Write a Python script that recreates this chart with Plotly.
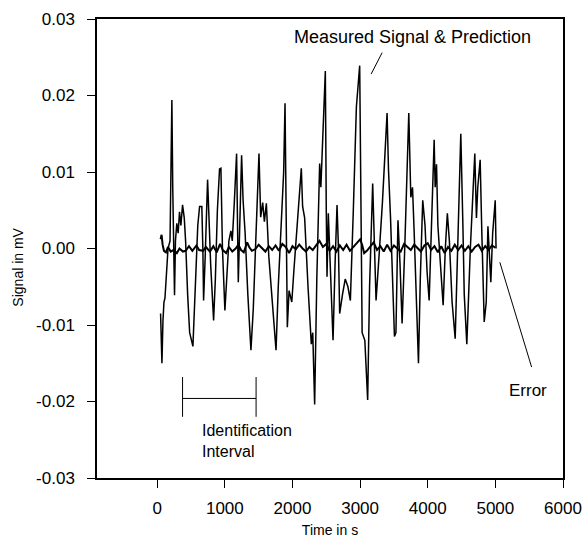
import plotly.graph_objects as go

# measured signal (prediction lies on top of it)
sig_t = [50, 60, 70, 85, 100, 115, 135, 160, 190, 205, 217, 230, 245, 256, 270, 290, 310, 330, 350, 375,
         400, 420, 450, 480, 528, 560, 600, 627, 660, 675, 686, 710, 745, 770, 790, 834, 860, 890, 922, 942,
         965, 1001, 1030, 1060, 1090, 1110, 1140, 1174, 1199, 1220, 1248, 1270, 1300, 1340, 1386, 1420, 1460,
         1505, 1530, 1560, 1585, 1614, 1650, 1700, 1757, 1790, 1840, 1870, 1890, 1905, 1924, 1950, 1990, 2020,
         2080, 2131, 2150, 2180, 2230, 2279, 2300, 2328, 2360, 2402, 2420, 2450, 2486, 2500, 2511, 2530, 2560,
         2600, 2630, 2659, 2680, 2698, 2740, 2780, 2820, 2856, 2900, 2945, 2994, 3015, 3030, 3070, 3112, 3140,
         3186, 3210, 3236, 3280, 3330, 3399, 3420, 3450, 3475, 3508, 3530, 3560, 3590, 3621, 3660, 3720, 3750,
         3775, 3800, 3830, 3863, 3890, 3926, 3960, 3990, 4021, 4050, 4095, 4110, 4130, 4150, 4180, 4228, 4260,
         4290, 4320, 4360, 4406, 4440, 4489, 4520, 4540, 4578, 4630, 4696, 4720, 4740, 4775, 4800, 4835, 4865,
         4890, 4933, 4960, 4998, 5010]
sig_v = [-0.0085, -0.0120, -0.0150, -0.0095, -0.0070, -0.0065, -0.0030, 0.0000, 0.0010, 0.0120, 0.0194,
         0.0080, -0.0020, -0.0061, 0.0010, 0.0033, 0.0020, 0.0048, 0.0030, 0.0057, 0.0040, 0.0010, -0.0060,
         -0.0110, -0.0128, -0.0060, 0.0030, 0.0055, 0.0055, 0.0000, -0.0068, -0.0010, 0.0090, 0.0030, -0.0020,
         -0.0094, -0.0040, 0.0050, 0.0104, 0.0105, 0.0000, -0.0081, -0.0030, 0.0010, 0.0023, 0.0010, 0.0060,
         0.0124, -0.0044, 0.0040, 0.0122, 0.0063, 0.0020, -0.0060, -0.0133, -0.0080, 0.0020, 0.0124, 0.0041,
         0.0060, 0.0035, 0.0059, -0.0010, -0.0070, -0.0133, -0.0050, 0.0050, 0.0100, 0.0190, 0.0050, -0.0103,
         -0.0055, -0.0070, -0.0030, 0.0040, 0.0105, 0.0055, 0.0040, -0.0050, -0.0125, -0.0110, -0.0204,
         -0.0040, 0.0111, 0.0080, 0.0150, 0.0232, 0.0050, -0.0037, 0.0046, -0.0020, -0.0120, -0.0020, 0.0057,
         0.0000, -0.0085, -0.0060, -0.0040, -0.0050, -0.0068, 0.0050, 0.0185, 0.0239, 0.0000, -0.0110,
         -0.0120, -0.0198, -0.0050, 0.0085, 0.0010, -0.0068, -0.0010, 0.0060, 0.0177, 0.0103, 0.0040, -0.0030,
         -0.0115, -0.0110, 0.0037, -0.0020, -0.0098, 0.0000, 0.0177, 0.0067, 0.0080, 0.0020, -0.0060, -0.0150,
         -0.0040, 0.0063, 0.0030, -0.0030, -0.0068, 0.0020, 0.0142, 0.0080, 0.0110, 0.0030, -0.0010, -0.0074,
         0.0000, 0.0046, 0.0010, -0.0070, -0.0118, 0.0000, 0.0150, 0.0030, -0.0060, -0.0125, 0.0000, 0.0124,
         0.0040, 0.0080, 0.0116, 0.0020, -0.0096, -0.0070, 0.0029, -0.0044, 0.0020, 0.0063, 0.0000]

# prediction error
err_t = [50, 65, 80, 100, 130, 160, 200, 240, 290, 330, 380, 420, 470, 520, 580, 620, 680, 720, 780, 830,
         880, 930, 970, 1020, 1060, 1110, 1160, 1200, 1240, 1280, 1330, 1360, 1400, 1450, 1500, 1550, 1600,
         1650, 1700, 1750, 1800, 1850, 1900, 1950, 2000, 2050, 2100, 2150, 2200, 2250, 2300, 2350, 2400, 2450,
         2500, 2550, 2600, 2650, 2700, 2750, 2800, 2850, 2900, 2950, 3000, 3030, 3060, 3100, 3150, 3200, 3250,
         3300, 3350, 3400, 3450, 3500, 3550, 3600, 3650, 3700, 3750, 3800, 3850, 3900, 3950, 4000, 4050, 4100,
         4150, 4200, 4250, 4300, 4350, 4400, 4450, 4500, 4550, 4600, 4650, 4700, 4750, 4800, 4850, 4900, 4950,
         5000]
err_v = [0.0012, 0.0018, 0.0005, -0.0003, -0.0005, 0.0002, -0.0004, -0.0002, -0.0006, 0.0000, -0.0004,
         -0.0003, 0.0003, -0.0003, 0.0004, -0.0002, -0.0003, 0.0002, -0.0004, 0.0003, -0.0005, 0.0006,
         -0.0002, -0.0006, 0.0002, -0.0004, 0.0000, 0.0005, -0.0002, -0.0005, 0.0008, 0.0002, -0.0003,
         -0.0001, 0.0005, 0.0001, -0.0004, 0.0003, -0.0002, 0.0004, -0.0003, 0.0006, 0.0002, -0.0006, 0.0003,
         -0.0001, 0.0005, 0.0000, -0.0004, 0.0002, -0.0002, 0.0004, 0.0010, 0.0002, 0.0006, -0.0003, 0.0003,
         -0.0004, 0.0004, -0.0002, 0.0005, -0.0003, 0.0002, 0.0006, 0.0012, 0.0005, -0.0006, -0.0003, 0.0003,
         0.0008, -0.0002, 0.0003, -0.0004, 0.0005, -0.0003, 0.0004, 0.0000, -0.0004, 0.0006, 0.0002, -0.0002,
         0.0005, 0.0001, -0.0004, 0.0004, 0.0007, -0.0002, 0.0003, -0.0005, 0.0003, -0.0006, 0.0002, -0.0003,
         0.0005, -0.0002, 0.0004, -0.0003, 0.0003, -0.0004, 0.0002, 0.0005, -0.0003, 0.0003, -0.0002, 0.0004,
         0.0001]

# identification interval bracket
ident_t = [375, 375, None, 375, 1462, None, 1462, 1462]
ident_v = [-0.0168, -0.0220, None, -0.0196, -0.0196, None, -0.0168, -0.0220]

# leader lines (x0, y0, x1, y1)
lead_meas = [3326, 0.0256, 3163, 0.0228]
lead_err = [5066, -0.0018, 5536, -0.0155]

y_ticks = [-0.03, -0.02, -0.01, 0.0, 0.01, 0.02, 0.03]
y_text = ["-0.03", "-0.02", "-0.01", "0.00", "0.01", "0.02", "0.03"]
x_ticks = [0, 1000, 2000, 3000, 4000, 5000, 6000]

FONT = "Liberation Sans, Arial, Helvetica, sans-serif"

fig = go.Figure()
fig.add_trace(go.Scatter(x=sig_t, y=sig_v, mode="lines", line=dict(color="black", width=1.5),
                         name="Measured Signal & Prediction"))
fig.add_trace(go.Scatter(x=err_t, y=err_v, mode="lines", line=dict(color="black", width=2),
                         name="Error"))
fig.add_trace(go.Scatter(x=ident_t, y=ident_v, mode="lines", line=dict(color="black", width=1),
                         name="Identification Interval"))

for ln in (lead_meas, lead_err):
    fig.add_shape(type="line", x0=ln[0], y0=ln[1], x1=ln[2], y1=ln[3], xref="x", yref="y",
                  line=dict(color="black", width=1))

fig.add_annotation(x=3778, y=0.0277, text="Measured Signal & Prediction", showarrow=False,
                   font=dict(size=18, color="black"))
fig.add_annotation(x=5488, y=-0.0186, text="Error", showarrow=False, font=dict(size=17, color="black"))
fig.add_annotation(x=640, y=-0.0251, text="Identification<br>Interval", showarrow=False, xanchor="left",
                   align="left", font=dict(size=16, color="black"))
# y axis title
fig.add_annotation(x=-0.17, y=0.46, xref="paper", yref="paper", text="Signal in mV", textangle=-90,
                   showarrow=False, font=dict(size=14, color="black"), xanchor="center")

fig.update_layout(
    width=582, height=540,
    margin=dict(l=97, r=19, t=19, b=62),
    paper_bgcolor="white", plot_bgcolor="white",
    showlegend=False,
    font=dict(family=FONT, color="black", size=16),
)
fig.update_xaxes(range=[-890, 6000], tickvals=x_ticks, ticks="outside", ticklen=8, tickcolor="black",
                 showline=True, linecolor="black", linewidth=1.5, mirror=True, showgrid=False, zeroline=False,
                 tickfont=dict(size=17), ticklabelstandoff=6, automargin=False,
                 title=dict(text="Time in s", font=dict(size=14), standoff=8))
fig.update_yaxes(range=[-0.03, 0.03], tickvals=y_ticks, ticktext=y_text, ticks="outside", ticklen=8,
                 tickcolor="black", showline=True, linecolor="black", linewidth=1.5, mirror=True,
                 showgrid=False, zeroline=False, tickfont=dict(size=17), ticklabelstandoff=9,
                 automargin=False)

# drop the default body margin so the 582x540 figure fills the window exactly
fig.write_html("out.html", config={"displayModeBar": False},
               post_script="document.body.style.margin='0';document.body.style.overflow='hidden';")
